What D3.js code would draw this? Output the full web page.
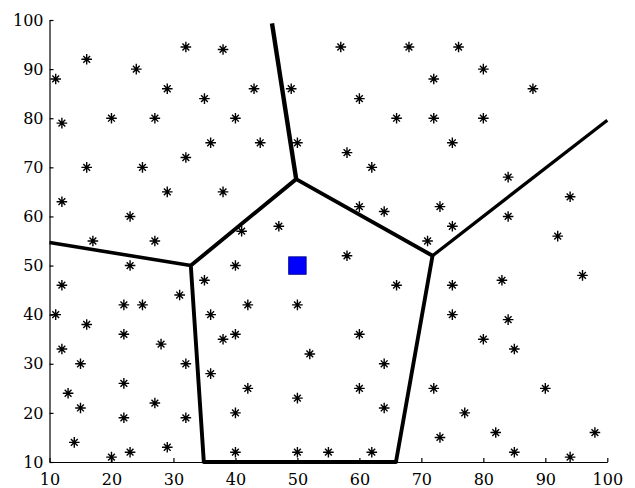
<!DOCTYPE html>
<html>
<head>
<meta charset="utf-8">
<script src="https://cdn.jsdelivr.net/npm/d3@7"></script>
<style>
  html, body { margin: 0; padding: 0; background: #fff; }
  svg { display: block; }
  .axis text { font-family: "DejaVu Serif", "Liberation Serif", serif; font-size: 16px; fill: #000; }
  .axis path, .axis line { stroke: #000; stroke-width: 1.2; }
</style>
</head>
<body>
<svg id="chart" width="635" height="488"></svg>
<script>
// Scattered sample sites (x, y)
const siteX = [11, 16, 24, 32, 38, 29, 35, 43, 49, 12, 20, 27, 40, 36, 44, 50, 16, 25, 32, 29, 38, 12, 23, 17, 27, 41, 47,
               57, 68, 76, 80, 72, 88, 60, 66, 72, 80, 75, 58, 62, 84, 94, 60, 64, 73, 84, 75, 92, 71, 58,
               23, 40, 12, 35, 31, 22, 25, 42, 50, 11, 36, 16, 22, 40, 38, 12, 28, 52, 15, 32, 36, 22, 42, 13, 27, 50, 15, 40, 22, 32, 14, 29, 23, 40, 50, 20,
               96, 66, 75, 83, 75, 84, 60, 80, 85, 64, 60, 72, 90, 64, 77, 82, 98, 73, 55, 62, 85, 94];
const siteY = [88, 92, 90, 94.5, 94, 86, 84, 86, 86, 79, 80, 80, 80, 75, 75, 75, 70, 70, 72, 65, 65, 63, 60, 55, 55, 57, 58,
               94.5, 94.5, 94.5, 90, 88, 86, 84, 80, 80, 80, 75, 73, 70, 68, 64, 62, 61, 62, 60, 58, 56, 55, 52,
               50, 50, 46, 47, 44, 42, 42, 42, 42, 40, 40, 38, 36, 36, 35, 33, 34, 32, 30, 30, 28, 26, 25, 24, 22, 23, 21, 20, 19, 19, 14, 13, 12, 12, 12, 11,
               48, 46, 46, 47, 40, 39, 36, 35, 33, 30, 25, 25, 25, 21, 20, 16, 16, 15, 12, 12, 12, 11];

// Query point
const centerX = [50];
const centerY = [50];

// Boundary of the cell around the query point (closed through the bottom edge)
const cellX = [32.8, 49.8, 71.8, 65.9, 34.9];
const cellY = [50, 67.6, 52, 10, 10];

// Edges running from the cell vertices out to the frame
const rayFromX = [32.8, 49.8, 71.8];
const rayFromY = [50, 67.6, 52];
const rayToX = [10, 45.9, 100];
const rayToY = [54.7, 99.3, 79.6];

// Axis ticks
const xTicks = [10, 20, 30, 40, 50, 60, 70, 80, 90, 100];
const yTicks = [10, 20, 30, 40, 50, 60, 70, 80, 90, 100];

const svg = d3.select("#chart");
const x = d3.scaleLinear().domain([10, 100]).range([49.5, 607.3]);
const y = d3.scaleLinear().domain([10, 100]).range([462, 20]);

// Cell edges
const cellPts = cellX.map((d, i) => [x(d), y(cellY[i])]);
const lineGen = d3.line();
svg.append("path")
  .attr("d", lineGen(cellPts) + "Z")
  .attr("fill", "none")
  .attr("stroke", "#000")
  .attr("stroke-width", 3.9)
  .attr("stroke-linejoin", "round");

const rayWidth = [3.6, 4.4, 3.3];
svg.selectAll("line.ray")
  .data(rayFromX.map((d, i) => i))
  .enter().append("line")
  .attr("class", "ray")
  .attr("x1", i => x(rayFromX[i]))
  .attr("y1", i => y(rayFromY[i]))
  .attr("x2", i => x(rayToX[i]))
  .attr("y2", i => y(rayToY[i]))
  .attr("stroke", "#000")
  .attr("stroke-width", i => rayWidth[i]);

// Axes: left and bottom only, ticks pointing inward
svg.append("g").attr("class", "axis")
  .attr("transform", `translate(0,${y(10)})`)
  .call(d3.axisBottom(x).tickValues(xTicks).tickSizeInner(-4).tickSizeOuter(0).tickPadding(12).tickFormat(d3.format("d")));
svg.append("g").attr("class", "axis")
  .attr("transform", `translate(${x(10)},0)`)
  .call(d3.axisLeft(y).tickValues(yTicks).tickSizeInner(-4).tickSizeOuter(0).tickPadding(6).tickFormat(d3.format("d")));

// Star markers
const star = svg.append("g").attr("stroke", "#000").attr("stroke-width", 1.4).attr("fill", "none");
siteX.forEach((d, i) => {
  const cx = x(d), cy = y(siteY[i]);
  const a = 5.3, b = 3.4;
  star.append("path")
    .attr("d", `M${cx - a},${cy}H${cx + a}M${cx},${cy - a}V${cy + a}` +
               `M${cx - b},${cy - b}L${cx + b},${cy + b}M${cx - b},${cy + b}L${cx + b},${cy - b}`);
});

// Query point marker
const sq = 17.5;
svg.selectAll("rect.center")
  .data(centerX.map((d, i) => i))
  .enter().append("rect")
  .attr("class", "center")
  .attr("x", i => x(centerX[i]) - sq / 2)
  .attr("y", i => y(centerY[i]) - sq / 2)
  .attr("width", sq)
  .attr("height", sq)
  .attr("fill", "#0000ff")
  .attr("stroke", "#000080")
  .attr("stroke-width", 0.8);
</script>
</body>
</html>
